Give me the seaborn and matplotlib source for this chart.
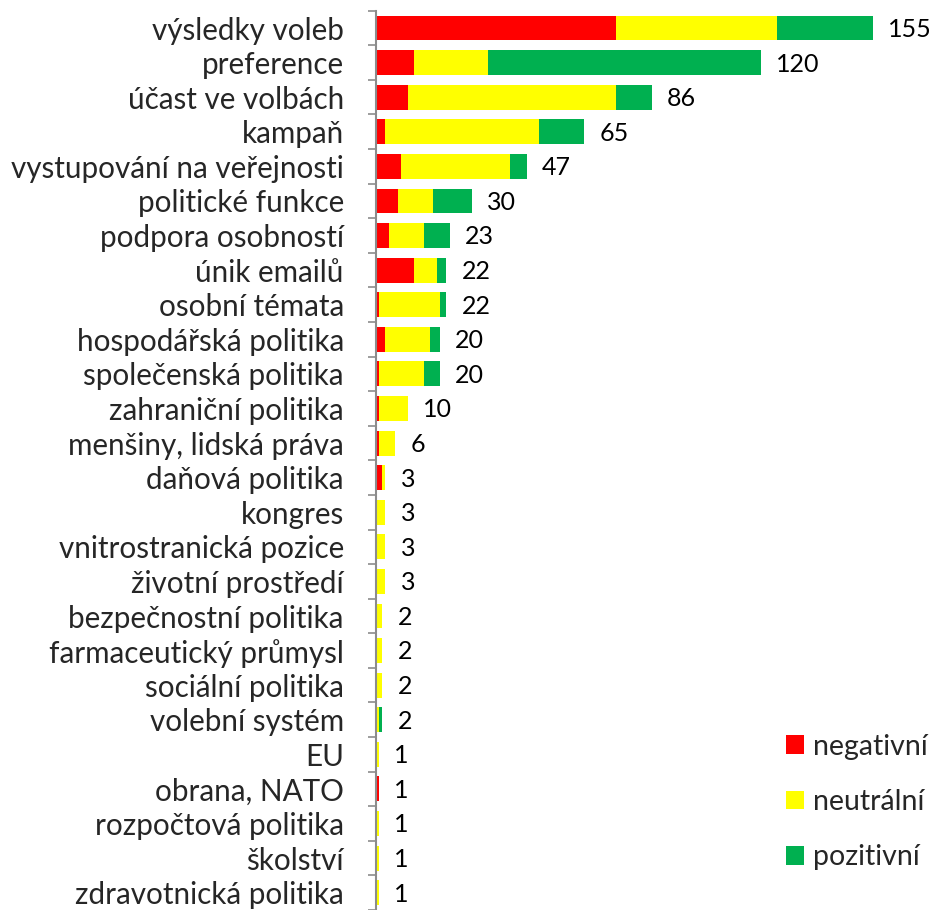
import numpy as np
import pandas as pd
import seaborn as sns
import matplotlib.pyplot as plt
from matplotlib.patches import Patch

categories = ["výsledky voleb", "preference", "účast ve volbách", "kampaň",
              "vystupování na veřejnosti", "politické funkce", "podpora osobností",
              "únik emailů", "osobní témata", "hospodářská politika",
              "společenská politika", "zahraniční politika", "menšiny, lidská práva",
              "daňová politika", "kongres", "vnitrostranická pozice",
              "životní prostředí", "bezpečnostní politika", "farmaceutický průmysl",
              "sociální politika", "volební systém", "EU", "obrana, NATO",
              "rozpočtová politika", "školství", "zdravotnická politika"]
negativni = [75, 12, 10, 3, 8, 7, 4, 12, 1, 3, 1, 1, 1, 2, 0, 0, 0, 0, 0, 0, 0, 0, 1, 0, 0, 0]
neutralni = [50, 23, 65, 48, 34, 11, 11, 7, 19, 14, 14, 9, 5, 1, 3, 3, 3, 2, 2, 2, 1, 1, 0, 1, 1, 1]
pozitivni = [30, 85, 11, 14, 5, 12, 8, 3, 2, 3, 5, 0, 0, 0, 0, 0, 0, 0, 0, 0, 1, 0, 0, 0, 0, 0]
series_names = ["negativní", "neutrální", "pozitivní"]

RED, YELLOW, GREEN = "#FF0000", "#FFFF00", "#00B050"

df = pd.DataFrame({"kategorie": categories, "neg": negativni,
                   "neu": neutralni, "poz": pozitivni})
df["neg_neu"] = df["neg"] + df["neu"]
df["total"] = df["neg_neu"] + df["poz"]

sns.set_style("white")
plt.rcParams["font.family"] = ["Lato", "DejaVu Sans"]

fig = plt.figure(figsize=(9.33, 9.10), dpi=100)
ax = fig.add_axes([0.4027, 0.0, 0.5973, 0.9882])

# stacked bars by overlaying cumulative sums
for col, c in [("total", GREEN), ("neg_neu", YELLOW), ("neg", RED)]:
    sns.barplot(data=df, x=col, y="kategorie", orient="h", color=c,
                saturation=1, width=0.72, linewidth=0, ax=ax)

for i, t in enumerate(df["total"]):
    ax.annotate(str(t), (t, i), xytext=(11, -1), textcoords="offset points",
                ha="left", va="center", fontsize=18, color="black")

ax.set_xlim(0, 173.7)
ax.set_ylim(len(categories) - 0.5, -0.5)
ax.set_xlabel("")
ax.set_ylabel("")
ax.set_xticks([])

for s in ["top", "right", "bottom"]:
    ax.spines[s].set_visible(False)
ax.spines["left"].set_color("#8C8C8C")
ax.spines["left"].set_linewidth(1.5)

ax.set_yticks(np.arange(len(categories) + 1) - 0.5, minor=True)
ax.tick_params(axis="y", which="minor", length=6, width=1.2, color="#8C8C8C", left=True)
ax.tick_params(axis="y", which="major", length=0, pad=23, labelsize=21.3)

handles = [Patch(facecolor=c, edgecolor="none") for c in (RED, YELLOW, GREEN)]
fig.legend(handles, series_names, loc="center left", bbox_to_anchor=(0.8424, 0.1187),
           frameon=False, fontsize=20.5, handlelength=0.63, handleheight=0.63,
           handletextpad=0.32, labelspacing=1.03, borderpad=0, borderaxespad=0)

fig.savefig("out.png", dpi=100)
